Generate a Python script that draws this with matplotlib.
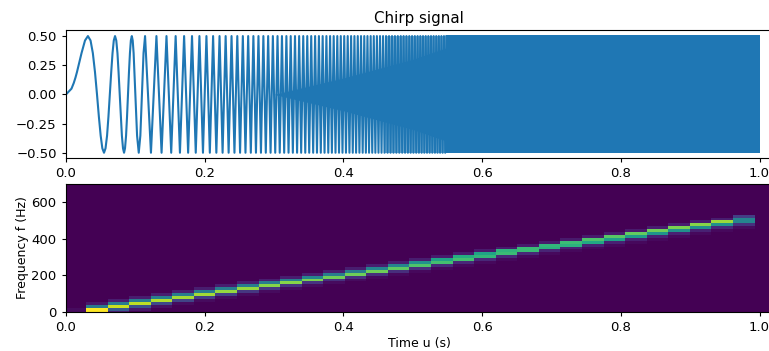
import numpy as np
import matplotlib
matplotlib.use('Agg')
import matplotlib.pyplot as plt

# first few slow waves of the chirp, read point by point
wave_t = [0.0, 0.0079, 0.0112, 0.0137, 0.0158, 0.0224, 0.0274, 0.0316, 0.0354, 0.0387, 0.0418, 0.0447,
          0.0474, 0.05, 0.0524, 0.0548, 0.057, 0.0592, 0.0612, 0.0632, 0.0652, 0.0671, 0.0689, 0.0707,
          0.0725, 0.0742, 0.0758, 0.0775, 0.0791, 0.0806, 0.0822, 0.0837, 0.0851, 0.0866, 0.088, 0.0894,
          0.0908, 0.0922, 0.0935, 0.0949, 0.0962, 0.0975, 0.0987, 0.1, 0.1025, 0.1049, 0.1072, 0.1095,
          0.1118, 0.114]
wave_y = [0.0, 0.049, 0.098, 0.145, 0.191, 0.354, 0.462, 0.5, 0.462, 0.354, 0.191, 0.0,
          -0.191, -0.354, -0.462, -0.5, -0.462, -0.354, -0.191, 0.0, 0.191, 0.354, 0.462, 0.5,
          0.462, 0.354, 0.191, 0.0, -0.191, -0.354, -0.462, -0.5, -0.462, -0.354, -0.191, 0.0,
          0.191, 0.354, 0.462, 0.5, 0.462, 0.354, 0.191, 0.0, -0.354, -0.5, -0.354, 0.0,
          0.354, 0.5]

# times of the upper and lower turning points after that
top_times = [0.1304, 0.1449, 0.1581, 0.1703, 0.1817, 0.1924, 0.2025, 0.2121, 0.2214, 0.2302, 0.2387, 0.2470,
             0.2550, 0.2627, 0.2702, 0.2775, 0.2846, 0.2915, 0.2983, 0.3050, 0.3114, 0.3178, 0.3240, 0.3302,
             0.3362, 0.3421, 0.3479, 0.3536, 0.3592, 0.3647, 0.3701, 0.3755, 0.3808, 0.3860, 0.3912, 0.3962,
             0.4012, 0.4062, 0.4111, 0.4159, 0.4207, 0.4254, 0.4301, 0.4347, 0.4393, 0.4438, 0.4483, 0.4528,
             0.4572, 0.4615, 0.4658, 0.4701, 0.4743, 0.4785, 0.4827, 0.4868, 0.4909, 0.4950, 0.4990, 0.5030,
             0.5070, 0.5109, 0.5148, 0.5187, 0.5225, 0.5263, 0.5301, 0.5339, 0.5376, 0.5413, 0.5450, 0.5486]
bottom_times = [0.1225, 0.1378, 0.1517, 0.1643, 0.1761, 0.1871, 0.1975, 0.2074, 0.2168, 0.2258, 0.2345, 0.2429,
                0.2510, 0.2588, 0.2665, 0.2739, 0.2811, 0.2881, 0.2950, 0.3017, 0.3082, 0.3146, 0.3209, 0.3271,
                0.3332, 0.3391, 0.3450, 0.3507, 0.3564, 0.3619, 0.3674, 0.3728, 0.3782, 0.3834, 0.3886, 0.3937,
                0.3987, 0.4037, 0.4087, 0.4135, 0.4183, 0.4231, 0.4278, 0.4324, 0.4370, 0.4416, 0.4461, 0.4506,
                0.4550, 0.4593, 0.4637, 0.4680, 0.4722, 0.4764, 0.4806, 0.4848, 0.4889, 0.4930, 0.4970, 0.5010,
                0.5050, 0.5089, 0.5128, 0.5167, 0.5206, 0.5244, 0.5282, 0.5320, 0.5357, 0.5394, 0.5431, 0.5468]
amplitude = 0.5

# solid core where the strokes merge, a half-merged stretch, then a full band
core_t = [0.30, 0.40, 0.50, 0.5486]
core_top = [0.0, 0.14, 0.30, 0.40]
merge_t = [0.46, 0.5486]
merge_top = [0.5, 0.5]
band_t = [0.5486, 1.0]
band_top = [0.505, 0.505]
band_bottom = [-0.505, -0.505]

# spectrogram columns, values per column around the ridge (0-1 of colour range)
upper2 = [0.0, 0.06, 0.08, 0.08, 0.08, 0.08, 0.08, 0.08, 0.08, 0.08, 0.08, 0.08, 0.08, 0.08, 0.08, 0.08,
          0.08, 0.07, 0.07, 0.07, 0.07, 0.07, 0.07, 0.07, 0.07, 0.07, 0.07, 0.08, 0.08, 0.08, 0.08, 0.18]
upper1 = [0.03, 0.4, 0.42, 0.42, 0.42, 0.42, 0.42, 0.42, 0.42, 0.42, 0.42, 0.45, 0.42, 0.42, 0.45, 0.45,
          0.5, 0.58, 0.62, 0.58, 0.65, 0.68, 0.66, 0.68, 0.72, 0.74, 0.76, 0.78, 0.8, 0.82, 0.85, 0.45]
center = [0.03, 1.0, 0.92, 0.9, 0.88, 0.86, 0.86, 0.84, 0.84, 0.82, 0.82, 0.8, 0.78, 0.78, 0.78, 0.75,
          0.72, 0.7, 0.7, 0.66, 0.68, 0.68, 0.64, 0.64, 0.6, 0.56, 0.55, 0.52, 0.5, 0.5, 0.5, 0.45]
lower1 = [0.03, 1.0, 0.28, 0.25, 0.22, 0.2, 0.18, 0.18, 0.16, 0.16, 0.15, 0.15, 0.14, 0.14, 0.13, 0.13,
          0.13, 0.12, 0.11, 0.11, 0.11, 0.11, 0.1, 0.09, 0.09, 0.09, 0.09, 0.09, 0.09, 0.09, 0.11, 0.14]
lower2 = [0.0, 0.0, 0.08, 0.06, 0.04, 0.03, 0.03, 0.03, 0.03, 0.03, 0.03, 0.03, 0.03, 0.03, 0.02, 0.02,
          0.02, 0.02, 0.02, 0.02, 0.02, 0.02, 0.02, 0.02, 0.02, 0.02, 0.02, 0.02, 0.02, 0.02, 0.02, 0.03]

plt.rcParams['font.size'] = 9
plt.rcParams['xtick.labelsize'] = 9.5
plt.rcParams['ytick.labelsize'] = 9.5
plt.rcParams['xtick.major.size'] = 3.2
plt.rcParams['ytick.major.size'] = 3.2

W, H = 769, 351
fig = plt.figure(figsize=(W / 100, H / 100), dpi=100)
left, right = 66, 772
ax1 = fig.add_axes([left / W, 1 - 158 / H, (right - left) / W, 128 / H])
ax2 = fig.add_axes([left / W, 1 - 312 / H, (right - left) / W, 128 / H])
xmax = (right - left) / 693.5

# chirp
turn_t = np.concatenate([top_times, bottom_times])
turn_y = np.concatenate([np.full(len(top_times), amplitude), np.full(len(bottom_times), -amplitude)])
order = np.argsort(turn_t)
ax1.plot(np.concatenate([wave_t, turn_t[order]]), np.concatenate([wave_y, turn_y[order]]), color='C0', lw=1.5)
ax1.fill_between(core_t, -np.array(core_top), core_top, color='C0', lw=0)
ax1.fill_between(merge_t, -np.array(merge_top), merge_top, color='C0', lw=0, alpha=0.55)
ax1.fill_between(band_t, band_bottom, band_top, color='C0', lw=0)
ax1.set_xlim(0, xmax)
ax1.set_ylim(-0.545, 0.552)
ax1.set_yticks([-0.5, -0.25, 0, 0.25, 0.5])
ax1.set_yticklabels(['−0.50', '−0.25', '0.00', '0.25', '0.50'])
ax1.set_xticks([0, 0.2, 0.4, 0.6, 0.8, 1.0])
ax1.set_title('Chirp signal', fontsize=10.8, pad=5)

# spectrogram
n_cols = len(center)
n_rows = 44
S = np.zeros((n_rows, n_cols + 1))
for j in range(n_cols):
    for off, vals in zip([2, 1, 0, -1, -2], [upper2, upper1, center, lower1, lower2]):
        if j + off >= 0:
            S[j + off, j] = vals[j]
time_edges = np.concatenate([[0], 0.0288 + 0.0311 * np.arange(n_cols), [xmax]])
freq_edges = np.concatenate([[0], (np.arange(n_rows - 1) + 0.5) * 15.9, [700]])
ax2.pcolormesh(time_edges, freq_edges, S, cmap='viridis', vmin=0, vmax=1, shading='flat')
ax2.set_xlim(0, xmax)
ax2.set_ylim(0, 700)
ax2.set_yticks([0, 200, 400, 600])
ax2.set_xticks([0, 0.2, 0.4, 0.6, 0.8, 1.0])
ax2.set_xlabel('Time u (s)')
ax2.set_ylabel('Frequency f (Hz)')
ax2.xaxis.set_label_coords(0.5, -0.195)
ax2.yaxis.set_label_coords(-0.052, 0.5)

fig.savefig('out.png', dpi=100)
